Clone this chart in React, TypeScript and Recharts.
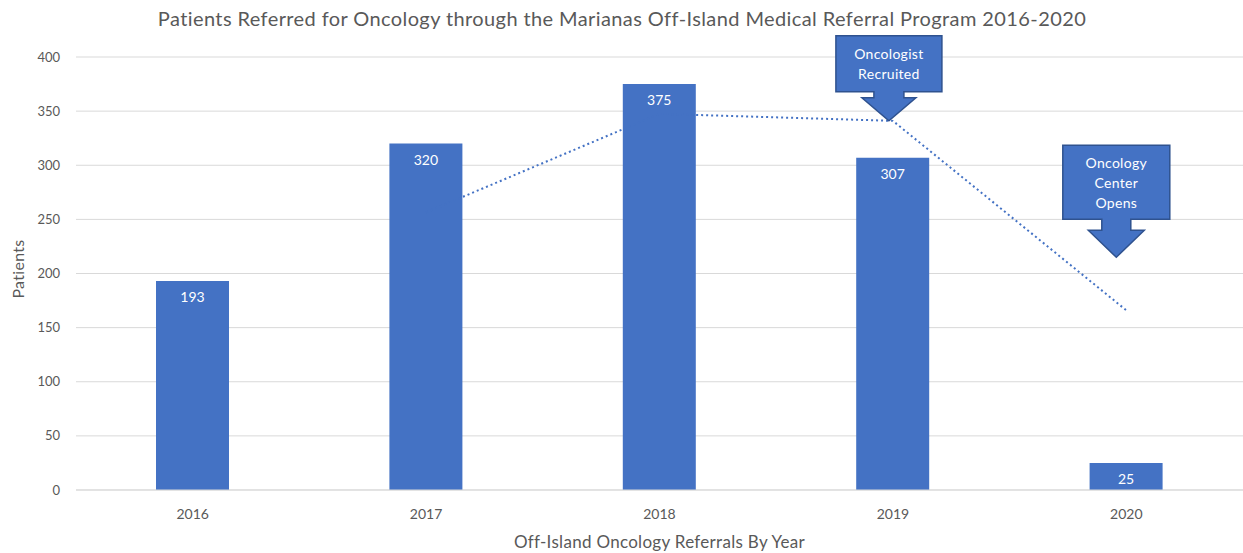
import React from "react"
import {
  ComposedChart,
  Bar,
  Line,
  XAxis,
  YAxis,
  CartesianGrid,
  LabelList,
  ReferenceDot,
} from "recharts"

const years = ["2016", "2017", "2018", "2019", "2020"]
const patients = [193, 320, 375, 307, 25]
// 2-period moving average
const trend = [null, 256.5, 347.5, 341, 166]
const yTicks = [0, 50, 100, 150, 200, 250, 300, 350, 400]

const data = years.map((year, i) => ({ year, patients: patients[i], trend: trend[i] }))

const BLUE = "#4472C4"
const BORDER = "#2F528F"
const TEXT = "#595959"
const FONT = "Lato, 'Liberation Sans', sans-serif"

type CalloutProps = {
  cx?: number
  cy?: number
  lines: string[]
  dx: number
  boxW: number
  boxH: number
  shaftW: number
  shaftH: number
  headW: number
  headH: number
}

function Callout({ cx = 0, cy = 0, lines, dx, boxW, boxH, shaftW, shaftH, headW, headH }: CalloutProps) {
  const x = cx + dx
  const headTop = cy - headH
  const shaftTop = headTop - shaftH
  const boxTop = shaftTop - boxH
  const pts = [
    [x - boxW / 2, boxTop],
    [x + boxW / 2, boxTop],
    [x + boxW / 2, shaftTop],
    [x + shaftW / 2, shaftTop],
    [x + shaftW / 2, headTop],
    [x + headW / 2, headTop],
    [x, cy],
    [x - headW / 2, headTop],
    [x - shaftW / 2, headTop],
    [x - shaftW / 2, shaftTop],
    [x - boxW / 2, shaftTop],
  ]
  const lineH = 20
  const firstY = boxTop + boxH / 2 - ((lines.length - 1) * lineH) / 2
  return (
    <g>
      <polygon points={pts.map((p) => p.join(",")).join(" ")} fill={BLUE} stroke={BORDER} strokeWidth={1.5} />
      {lines.map((t, i) => (
        <text
          key={t}
          x={x}
          y={firstY + i * lineH}
          textAnchor="middle"
          dominantBaseline="central"
          fill="#fff"
          fontSize={14}
          letterSpacing={0.3}
          fontFamily={FONT}
        >
          {t}
        </text>
      ))}
    </g>
  )
}

export default function App() {
  return (
    <div style={{ position: "absolute", left: 0, top: 0, background: "#fff" }}>
      <ComposedChart
        width={1243}
        height={553}
        data={data}
        margin={{ top: 57, right: 0, bottom: 0, left: 0 }}
        style={{ fontFamily: FONT }}
      >
        <text
          x={622}
          y={18}
          textAnchor="middle"
          dominantBaseline="central"
          fill={TEXT}
          fontSize={20}
          letterSpacing={0.4}
          fontFamily={FONT}
        >
          Patients Referred for Oncology through the Marianas Off-Island Medical Referral Program 2016-2020
        </text>
        <text
          transform="translate(17,269) rotate(-90)"
          textAnchor="middle"
          dominantBaseline="central"
          fill={TEXT}
          fontSize={16}
          letterSpacing={0.3}
          fontFamily={FONT}
        >
          Patients
        </text>
        <CartesianGrid vertical={false} stroke="#d9d9d9" />
        <XAxis
          dataKey="year"
          height={63}
          tickLine={false}
          axisLine={{ stroke: "#d9d9d9" }}
          tick={{ fill: TEXT, fontSize: 14 }}
          tickMargin={13}
          label={{
            value: "Off-Island Oncology Referrals By Year",
            position: "insideBottom",
            offset: 5,
            fill: TEXT,
            fontSize: 17,
            letterSpacing: 0.3,
          }}
        />
        <YAxis
          width={76}
          domain={[0, 400]}
          ticks={yTicks}
          axisLine={false}
          tickLine={false}
          tickMargin={10}
          tick={{ fill: TEXT, fontSize: 13 }}
        />
        <Line
          dataKey="trend"
          stroke={BLUE}
          strokeWidth={2}
          strokeDasharray="2 3"
          dot={false}
          activeDot={false}
          isAnimationActive={false}
        />
        <Bar dataKey="patients" fill={BLUE} barSize={73} isAnimationActive={false}>
          <LabelList dataKey="patients" position="insideTop" offset={11} fill="#fff" fontSize={14} />
        </Bar>
        <ReferenceDot
          x="2019"
          y={341}
          r={0}
          shape={(p: any) => (
            <Callout {...p} lines={["Oncologist", "Recruited"]} dx={-4} boxW={106} boxH={56} shaftW={30} shaftH={6} headW={54} headH={23} />
          )}
        />
        <ReferenceDot
          x="2020"
          y={215}
          r={0}
          shape={(p: any) => (
            <Callout {...p} lines={["Oncology", "Center", "Opens"]} dx={-10} boxW={107} boxH={74} shaftW={29} shaftH={11} headW={56} headH={27} />
          )}
        />
      </ComposedChart>
    </div>
  )
}
